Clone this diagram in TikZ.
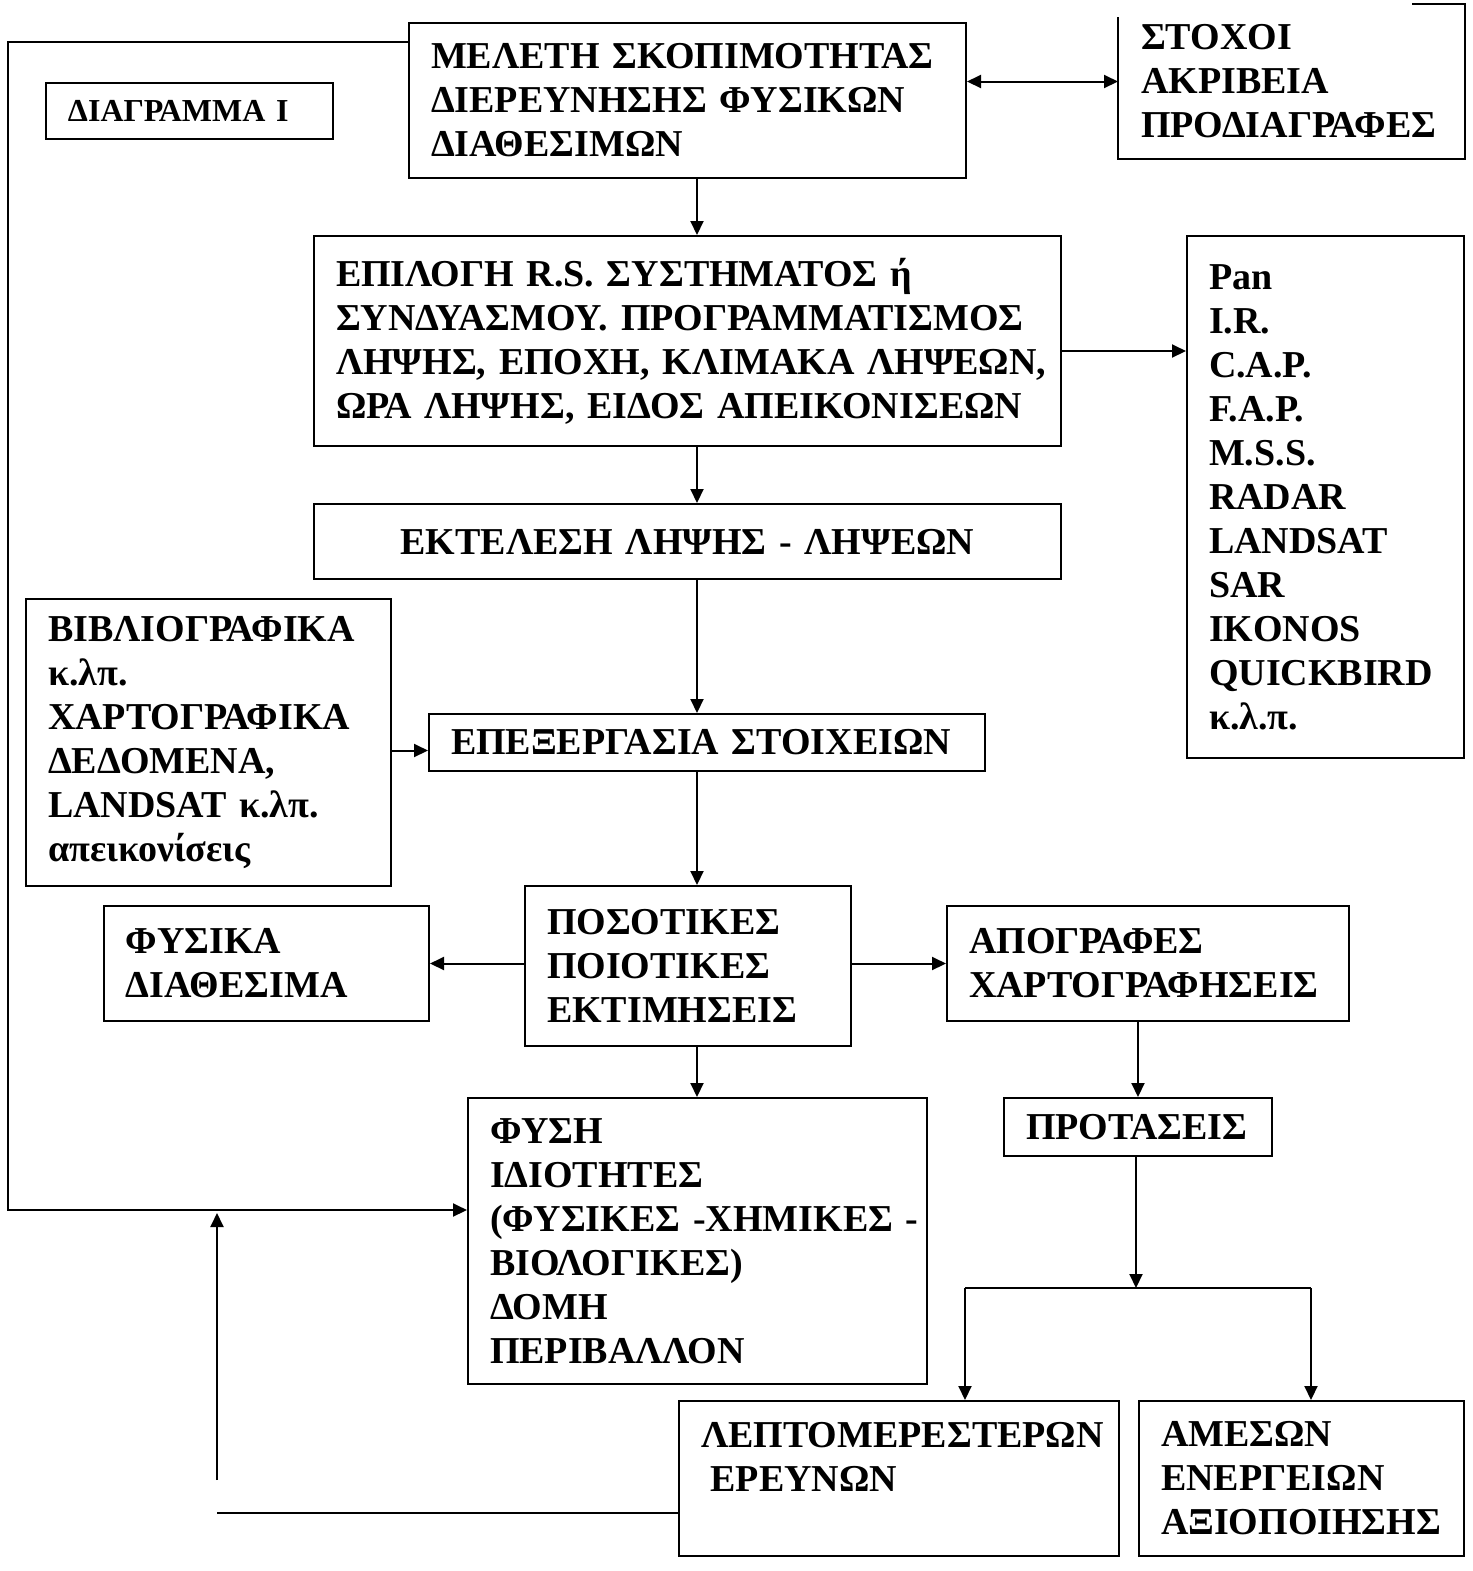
\documentclass[tikz,border=0pt]{standalone}
\usepackage{fontspec}
\setmainfont{Liberation Serif}
\usetikzlibrary{arrows.meta}
\begin{document}
\begin{tikzpicture}[x = 0.5pt, y = -0.5pt, line width = 1pt,
    box/.style = {shape = rectangle, draw, anchor = north west, align = left, inner xsep = 11pt, inner ysep = 0pt,
        font = \bfseries\fontsize{19}{22}\selectfont},
    arr/.style = {-{Triangle[length = 7pt, width = 6.5pt]}},
    darr/.style = {{Triangle[length = 7pt, width = 6.5pt]}-{Triangle[length = 7pt, width = 6.5pt]}}]
    \useasboundingbox (0, 0) rectangle (1473, 1571);
    \node (Melete) [box, text width = 256.5pt, minimum height = 77.5pt] at (408, 22) {ΜΕΛΕΤΗ ΣΚΟΠΙΜΟΤΗΤΑΣ\\ΔΙΕΡΕΥΝΗΣΗΣ ΦΥΣΙΚΩΝ\\ΔΙΑΘΕΣΙΜΩΝ};
    \node (Diagramma) [box, text width = 121.5pt, minimum height = 28pt, font = \bfseries\fontsize{16}{19}\selectfont] at (45, 82) {ΔΙΑΓΡΑΜΜΑ Ι};
    \node (Stoxoi) [box, draw = none, text width = 150.5pt, minimum height = 76.5pt] at (1118, 4) {ΣΤΟΧΟΙ\\ΑΚΡΙΒΕΙΑ\\ΠΡΟΔΙΑΓΡΑΦΕΣ};
    \draw (Stoxoi.south west) ++(0, -142) -- (Stoxoi.south west) -- (Stoxoi.south east) -- (Stoxoi.north east) -- ++(-53, 0);
    \node (Epilogi) [box, text width = 351.5pt, minimum height = 105pt] at (313, 235) {ΕΠΙΛΟΓΗ R.S. ΣΥΣΤΗΜΑΤΟΣ ή\\ΣΥΝΔΥΑΣΜΟΥ.~ΠΡΟΓΡΑΜΜΑΤΙΣΜΟΣ\\ΛΗΨΗΣ,~ΕΠΟΧΗ,~ΚΛΙΜΑΚΑ~ΛΗΨΕΩΝ,\\ΩΡΑ~ΛΗΨΗΣ,~ΕΙΔΟΣ~ΑΠΕΙΚΟΝΙΣΕΩΝ};
    \node (Sensors) [box, text width = 116.5pt, minimum height = 261pt] at (1186, 235) {Pan\\I.R.\\C.A.P.\\F.A.P.\\M.S.S.\\RADAR\\LANDSAT\\SAR\\IKONOS\\QUICKBIRD\\κ.λ.π.};
    \node (Ektelesi) [box, align = center, text width = 351.5pt, minimum height = 37.5pt] at (313, 503) {ΕΚΤΕΛΕΣΗ ΛΗΨΗΣ - ΛΗΨΕΩΝ};
    \node (Biblio) [box, text width = 160.5pt, minimum height = 143.5pt] at (25, 598) {ΒΙΒΛΙΟΓΡΑΦΙΚΑ\\κ.λπ.\\ΧΑΡΤΟΓΡΑΦΙΚΑ\\ΔΕΔΟΜΕΝΑ,\\LANDSAT κ.λπ.\\απεικονίσεις};
    \node (Epexergasia) [box, text width = 256pt, minimum height = 28.5pt] at (428, 713) {ΕΠΕΞΕΡΓΑΣΙΑ ΣΤΟΙΧΕΙΩΝ};
    \node (Ektimiseis) [box, text width = 141pt, minimum height = 80pt] at (524, 885) {ΠΟΣΟΤΙΚΕΣ\\ΠΟΙΟΤΙΚΕΣ\\ΕΚΤΙΜΗΣΕΙΣ};
    \node (Diathesima) [box, text width = 140.5pt, minimum height = 57.5pt] at (103, 905) {ΦΥΣΙΚΑ\\ΔΙΑΘΕΣΙΜΑ};
    \node (Apografes) [box, text width = 179pt, minimum height = 57.5pt] at (946, 905) {ΑΠΟΓΡΑΦΕΣ\\ΧΑΡΤΟΓΡΑΦΗΣΕΙΣ};
    \node (Protaseis) [box, text width = 112pt, minimum height = 29pt] at (1003, 1097) {ΠΡΟΤΑΣΕΙΣ};
    \node (Fysi) [box, text width = 207.5pt, minimum height = 143pt] at (467, 1097) {ΦΥΣΗ\\ΙΔΙΟΤΗΤΕΣ\\\mbox{(ΦΥΣΙΚΕΣ -ΧΗΜΙΚΕΣ -}\\ΒΙΟΛΟΓΙΚΕΣ)\\ΔΟΜΗ\\ΠΕΡΙΒΑΛΛΟΝ};
    \node (Erevnes) [box, text width = 198pt, minimum height = 77.5pt] at (678, 1400) {ΛΕΠΤΟΜΕΡΕΣΤΕΡΩΝ\\\hspace{0.25em}ΕΡΕΥΝΩΝ\\\mbox{}};
    \node (Energeies) [box, text width = 140.5pt, minimum height = 77.5pt] at (1138, 1400) {ΑΜΕΣΩΝ\\ΕΝΕΡΓΕΙΩΝ\\ΑΞΙΟΠΟΙΗΣΗΣ};
    \coordinate (Axis) at (697, 0);
    \coordinate (Fork) at (1136, 1288);
    \coordinate (ForkLeft) at (965, 1288);
    \coordinate (ForkRight) at (1311, 1288);
    \coordinate (LoopTop) at (8, 42);
    \coordinate (LoopBottom) at (8, 1210);
    \coordinate (BackEnd) at (217, 1513);
    \coordinate (BackStart) at (217, 1480);
    \coordinate (BackTip) at (217, 1213);
    \draw[darr] (Melete.east |- Stoxoi.west) -- (Stoxoi.west);
    \draw[arr] (Melete.south -| Axis) -- (Epilogi.north -| Axis);
    \draw[arr] ([yshift = -5pt]Epilogi.east) -- ([yshift = -5pt]Epilogi.east -| Sensors.west);
    \draw[arr] (Epilogi.south -| Axis) -- (Ektelesi.north -| Axis);
    \draw[arr] (Ektelesi.south -| Axis) -- (Epexergasia.north -| Axis);
    \draw[arr] ([yshift = -4pt]Biblio.east) -- ([yshift = -4pt]Biblio.east -| Epexergasia.west);
    \draw[arr] (Epexergasia.south -| Axis) -- (Ektimiseis.north -| Axis);
    \draw[arr] (Ektimiseis.west |- Diathesima.east) -- (Diathesima.east);
    \draw[arr] (Ektimiseis.east |- Apografes.west) -- (Apografes.west);
    \draw[arr] (Ektimiseis.south -| Axis) -- (Fysi.north -| Axis);
    \draw[arr] (Apografes.south -| Protaseis.north) -- (Protaseis.north);
    \draw[arr] (Protaseis.south -| Fork) -- (Fork);
    \draw (ForkLeft) -- (ForkRight);
    \draw[arr] (ForkLeft) -- (ForkLeft |- Erevnes.north);
    \draw[arr] (ForkRight) -- (ForkRight |- Energeies.north);
    \draw[arr] (LoopTop -| Melete.west) -- (LoopTop) -- (LoopBottom) -- (LoopBottom -| Fysi.west);
    \draw (Erevnes.west |- BackEnd) -- (BackEnd);
    \draw[arr] (BackStart) -- (BackTip);
\end{tikzpicture}
\end{document}
